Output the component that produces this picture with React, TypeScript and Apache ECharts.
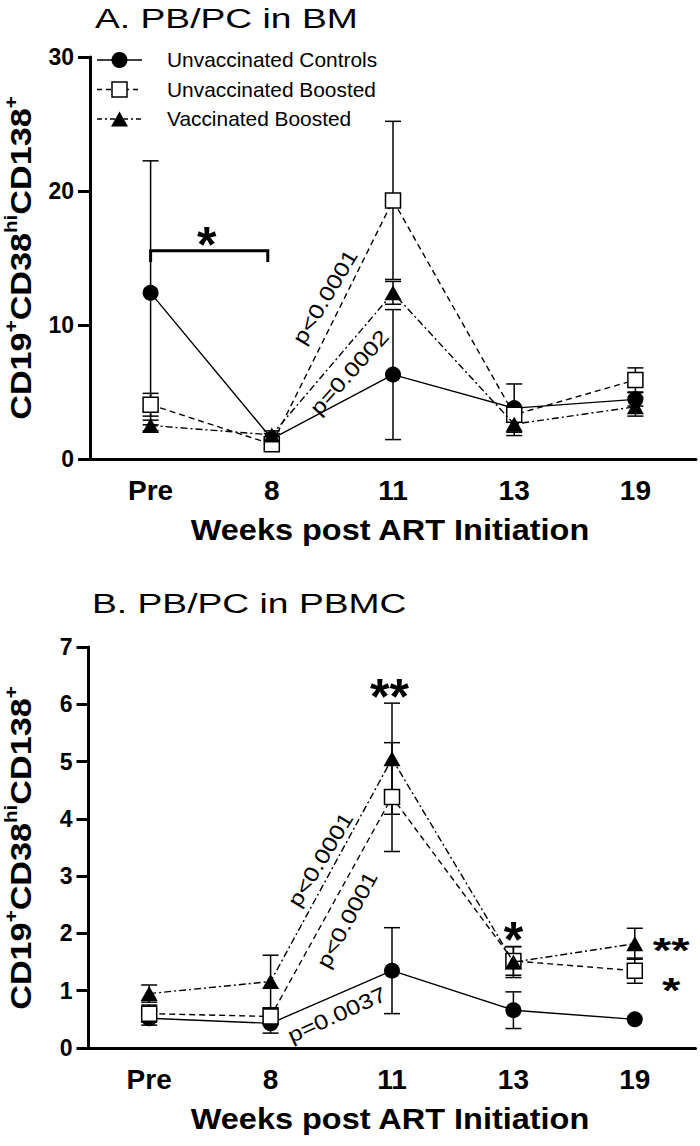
import React, { useEffect, useRef } from "react";
import * as echarts from "echarts";

const FONT = "'Liberation Sans', Arial, Helvetica, sans-serif";

const categories = ["Pre", "8", "11", "13", "19"];
const groupNames = ["Unvaccinated Controls", "Unvaccinated Boosted", "Vaccinated Boosted"];

// Panel A: PB/PC in BM
const bmControls = [12.4, 1.5, 6.3, 3.8, 4.45];
const bmControlsErr = [9.85, 0.4, 4.85, 1.8, 0.5];
const bmUnvBoosted = [4.05, 1.1, 19.3, 3.3, 5.9];
const bmUnvBoostedErr = [0.85, 0.3, 5.9, 0.5, 0.9];
const bmVacBoosted = [2.5, 1.8, 12.4, 2.6, 3.9];
const bmVacBoostedErr = [0.4, 0.3, 0.85, 0.85, 0.7];
const bmTicks = [0, 10, 20, 30];

// Panel B: PB/PC in PBMC
const pbmcControls = [0.52, 0.43, 1.35, 0.66, 0.5];
const pbmcControlsErr = [0.12, 0.17, 0.75, 0.32, null];
const pbmcUnvBoosted = [0.6, 0.55, 4.38, 1.52, 1.35];
const pbmcUnvBoostedErr = [0.15, 0.15, 0.95, 0.25, 0.22];
const pbmcVacBoosted = [0.95, 1.16, 5.05, 1.5, 1.82];
const pbmcVacBoostedErr = [0.15, 0.46, 0.97, 0.27, 0.27];
const pbmcTicks = [0, 1, 2, 3, 4, 5, 6, 7];

// Annotations (anchored in data space: between two categories, at a value)
const bmPValues = [
  { text: "p<0.0001", from: "8", to: "11", at: 0.44, value: 12.1, angle: 59 },
  { text: "p=0.0002", from: "8", to: "11", at: 0.64, value: 6.47, angle: 48 },
];
const bmStars = [{ text: "*", from: "Pre", to: "8", at: 0.463, value: 16.84 }];
const bmBracket = { from: "Pre", to: "8", level: 15.55, drop: 14.7 };

const pbmcPValues = [
  { text: "p<0.0001", from: "8", to: "11", at: 0.41, value: 3.29, angle: 58.7 },
  { text: "p<0.0001", from: "8", to: "11", at: 0.63, value: 2.24, angle: 61.8 },
  { text: "p=0.0037", from: "8", to: "11", at: 0.545, value: 0.58, angle: 24.5 },
];
const pbmcStars = [
  { text: "**", from: "11", to: "13", at: -0.02, value: 6.34 },
  { text: "*", from: "13", to: "19", at: 0, value: 2.1 },
  { text: "**", from: "13", to: "19", at: 1.3, value: 1.86, compact: true },
  { text: "*", from: "13", to: "19", at: 1.3, value: 1.17, compact: true },
];

const yNamePieces: [string, boolean][] = [
  ["CD19", false],
  ["+", true],
  ["CD38", false],
  ["hi", true],
  ["CD138", false],
  ["+", true],
];

const seriesStyles = [
  { symbol: "circle", symbolSize: 16, itemStyle: { color: "#000" }, lineType: "solid" as any },
  {
    symbol: "rect",
    symbolSize: 15,
    itemStyle: { color: "#fff", borderColor: "#000", borderWidth: 1.5 },
    lineType: [6, 4] as any,
  },
  { symbol: "triangle", symbolSize: [17, 15], itemStyle: { color: "#000" }, lineType: [7, 3, 2, 3] as any },
];

function errorBarData(mean: number[], err: (number | null)[]) {
  const out: number[][] = [];
  mean.forEach((m, i) => {
    const e = err[i];
    if (e != null) out.push([i, m - e, m + e]);
  });
  return out;
}

const renderErrorBar = (_params: any, api: any) => {
  const i = api.value(0);
  const lo = api.coord([i, api.value(1)]);
  const hi = api.coord([i, api.value(2)]);
  const hw = 8;
  const style = { stroke: "#000", lineWidth: 1.5 };
  return {
    type: "group",
    children: [
      { type: "line", shape: { x1: lo[0], y1: lo[1], x2: hi[0], y2: hi[1] }, style },
      { type: "line", shape: { x1: hi[0] - hw, y1: hi[1], x2: hi[0] + hw, y2: hi[1] }, style },
      { type: "line", shape: { x1: lo[0] - hw, y1: lo[1], x2: lo[0] + hw, y2: lo[1] }, style },
    ],
  };
};

function buildOption() {
  const panels = [
    { means: [bmControls, bmUnvBoosted, bmVacBoosted], errs: [bmControlsErr, bmUnvBoostedErr, bmVacBoostedErr] },
    {
      means: [pbmcControls, pbmcUnvBoosted, pbmcVacBoosted],
      errs: [pbmcControlsErr, pbmcUnvBoostedErr, pbmcVacBoostedErr],
    },
  ];
  const series: any[] = [];
  panels.forEach((p, g) => {
    p.means.forEach((m, k) => {
      series.push({
        type: "custom",
        name: groupNames[k] + " SEM",
        xAxisIndex: g,
        yAxisIndex: g,
        z: 1,
        silent: true,
        renderItem: renderErrorBar,
        encode: { x: 0, y: [1, 2] },
        data: errorBarData(m, p.errs[k]),
      });
    });
    p.means.forEach((m, k) => {
      const s = seriesStyles[k];
      series.push({
        type: "line",
        name: groupNames[k],
        xAxisIndex: g,
        yAxisIndex: g,
        z: 3 + k,
        data: m,
        symbol: s.symbol,
        symbolSize: s.symbolSize,
        itemStyle: s.itemStyle,
        lineStyle: { color: "#000", width: 1.4, type: s.lineType },
        emphasis: { disabled: true },
      });
    });
  });

  const xAxisBase = (g: number) => ({
    type: "category",
    gridIndex: g,
    data: categories,
    boundaryGap: true,
    axisLine: { lineStyle: { color: "#000", width: 3 } },
    axisTick: { alignWithLabel: true, length: 12, lineStyle: { color: "#000", width: 3 } },
    axisLabel: { color: "#000", fontSize: 28, fontWeight: "bold", fontFamily: FONT, margin: 17 },
  });
  const yAxisBase = (g: number, ticks: number[]) => ({
    type: "value",
    gridIndex: g,
    min: ticks[0],
    max: ticks[ticks.length - 1],
    interval: ticks[1] - ticks[0],
    axisLine: { show: true, lineStyle: { color: "#000", width: 3 } },
    axisTick: { show: true, length: 12, lineStyle: { color: "#000", width: 3 } },
    splitLine: { show: false },
    axisLabel: { color: "#000", fontSize: 23, fontWeight: "bold", fontFamily: FONT, margin: 16 },
  });

  return {
    animation: false,
    backgroundColor: "#fff",
    grid: [
      { left: 90, top: 57, width: 606, height: 402 },
      { left: 88.5, top: 647, width: 607, height: 401 },
    ],
    xAxis: [xAxisBase(0), xAxisBase(1)],
    yAxis: [yAxisBase(0, bmTicks), yAxisBase(1, pbmcTicks)],
    series,
  };
}

function buildGraphics(chart: any) {
  const P = (g: number, cat: string, v: number) => chart.convertToPixel({ gridIndex: g }, [cat, v]) as number[];
  const between = (g: number, c1: string, c2: string, f: number, v: number) => {
    const a = P(g, c1, v);
    const b = P(g, c2, v);
    return [a[0] + (b[0] - a[0]) * f, a[1]];
  };
  const els: any[] = [];

  // Titles
  els.push({
    type: "text",
    x: 95,
    y: 18,
    scaleX: 1.33,
    style: { text: "A. PB/PC in BM", fontSize: 28, fontFamily: FONT, fill: "#000", align: "left", verticalAlign: "middle" },
  });
  els.push({
    type: "text",
    x: 92,
    y: 603,
    scaleX: 1.33,
    style: { text: "B. PB/PC in PBMC", fontSize: 28, fontFamily: FONT, fill: "#000", align: "left", verticalAlign: "middle" },
  });

  // X axis names
  [530, 1119].forEach((y) => {
    els.push({
      type: "text",
      x: 390,
      y,
      scaleX: 1.12,
      style: {
        text: "Weeks post ART Initiation",
        fontSize: 29,
        fontWeight: "bold",
        fontFamily: FONT,
        fill: "#000",
        align: "center",
        verticalAlign: "middle",
      },
    });
  });

  // Y axis names (rotated group with superscript pieces)
  const canvas = document.createElement("canvas");
  const ctx = canvas.getContext("2d") as CanvasRenderingContext2D;
  const mainSize = 30;
  const supSize = 18;
  const widths = yNamePieces.map(([t, sup]) => {
    ctx.font = `bold ${sup ? supSize : mainSize}px ${FONT}`;
    return ctx.measureText(t).width;
  });
  const total = widths.reduce((a, b) => a + b, 0);
  [258, 848].forEach((cy) => {
    let cx = -total / 2;
    const children: any[] = [];
    yNamePieces.forEach(([t, sup], i) => {
      children.push({
        type: "text",
        x: cx,
        y: sup ? -10 : 0,
        style: {
          text: t,
          fontSize: sup ? supSize : mainSize,
          fontWeight: "bold",
          fontFamily: FONT,
          fill: "#000",
          align: "left",
          verticalAlign: "middle",
        },
      });
      cx += widths[i];
    });
    els.push({ type: "group", x: 21, y: cy, rotation: Math.PI / 2, scaleX: 1.14, children });
  });

  // Legend
  const legendY = [60, 89.5, 119];
  const lx1 = 97;
  const lx2 = 142;
  const lcx = 119.5;
  seriesStyles.forEach((_s, k) => {
    const y = legendY[k];
    els.push({
      type: "line",
      shape: { x1: lx1, y1: y, x2: lx2, y2: y },
      style: {
        stroke: "#000",
        lineWidth: 1.5,
        lineDash: k === 0 ? null : k === 1 ? [5, 4] : [5, 3, 2, 3],
      },
    });
    if (k === 0) {
      els.push({ type: "circle", shape: { cx: lcx, cy: y, r: 8 }, style: { fill: "#000" } });
    } else if (k === 1) {
      els.push({
        type: "rect",
        shape: { x: lcx - 7.5, y: y - 7.5, width: 15, height: 15 },
        style: { fill: "#fff", stroke: "#000", lineWidth: 1.5 },
      });
    } else {
      els.push({
        type: "polygon",
        shape: { points: [[lcx, y - 7.5], [lcx - 8.5, y + 7.5], [lcx + 8.5, y + 7.5]] },
        style: { fill: "#000" },
      });
    }
    els.push({
      type: "text",
      x: 167,
      y,
      scaleX: 1.045,
      style: { text: groupNames[k], fontSize: 20, fontFamily: FONT, fill: "#000", align: "left", verticalAlign: "middle" },
    });
  });

  // Bracket in panel A
  const bl = P(0, bmBracket.from, bmBracket.level);
  const br = P(0, bmBracket.to, bmBracket.level);
  const bd = P(0, bmBracket.from, bmBracket.drop);
  els.push({
    type: "polyline",
    shape: {
      points: [
        [bl[0], bd[1]],
        [bl[0], bl[1]],
        [br[0] - 4, br[1]],
        [br[0] - 4, bd[1]],
      ],
    },
    style: { stroke: "#000", lineWidth: 3, fill: null },
  });

  const addP = (g: number, list: any[]) => {
    list.forEach((a) => {
      const pt = between(g, a.from, a.to, a.at, a.value);
      els.push({
        type: "text",
        x: pt[0],
        y: pt[1],
        rotation: (a.angle * Math.PI) / 180,
        scaleX: 1.2,
        style: { text: a.text, fontSize: 21, fontFamily: FONT, fill: "#000", align: "center", verticalAlign: "middle" },
      });
    });
  };
  const addStars = (g: number, list: any[]) => {
    list.forEach((a) => {
      const pt = between(g, a.from, a.to, a.at, a.value);
      const size = a.compact ? 35 : 50;
      els.push({
        type: "text",
        x: pt[0],
        y: pt[1] + size * 0.24,
        scaleX: a.compact ? 1.35 : 1,
        style: {
          text: a.text,
          fontSize: size,
          fontWeight: "bold",
          fontFamily: FONT,
          fill: "#000",
          align: "center",
          verticalAlign: "middle",
        },
      });
    });
  };
  addP(0, bmPValues);
  addP(1, pbmcPValues);
  addStars(0, bmStars);
  addStars(1, pbmcStars);

  return els;
}

export default function App() {
  const ref = useRef<HTMLDivElement>(null);
  useEffect(() => {
    document.body.style.margin = "0";
    document.body.style.overflow = "hidden";
    const chart = echarts.init(ref.current as HTMLDivElement, undefined, { renderer: "svg" });
    chart.setOption(buildOption() as any);
    chart.setOption({ graphic: buildGraphics(chart) } as any);
    return () => chart.dispose();
  }, []);
  return <div ref={ref} style={{ width: 700, height: 1146 }} />;
}
